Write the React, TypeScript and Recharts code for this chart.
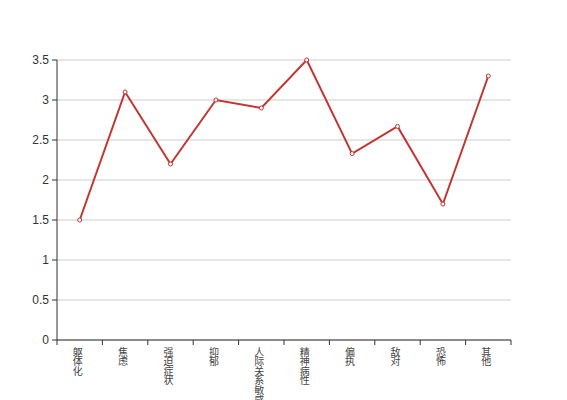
import React from 'react';
import { LineChart, Line, XAxis, YAxis, CartesianGrid } from 'recharts';

const categories = ['躯体化', '焦虑', '强迫症状', '抑郁', '人际关系敏感', '精神病性', '偏执', '敌对', '恐怖', '其他'];
const scores = [1.5, 3.1, 2.2, 3.0, 2.9, 3.5, 2.33, 2.67, 1.7, 3.3];
const yTicks = [0, 0.5, 1, 1.5, 2, 2.5, 3, 3.5];

const chartData = categories.map((name, i) => ({ name, value: scores[i] }));

const W = 567;
const H = 400;
const margin = { top: 60, right: 56, bottom: 0, left: 0 };
const yAxisWidth = 57;
const halfBand = (W - margin.left - margin.right - yAxisWidth) / categories.length / 2;

// category labels are drawn one character per line, with ticks on the band edges
const VerticalTick = (props: any) => {
  const { x, y, payload, index } = props;
  const chars = String(payload.value).split('');
  const isLast = index === categories.length - 1;
  return (
    <g>
      <line x1={x - halfBand} y1={y} x2={x - halfBand} y2={y + 5} stroke="#333" />
      {isLast && <line x1={x + halfBand} y1={y} x2={x + halfBand} y2={y + 5} stroke="#333" />}
      {chars.map((c, i) => (
        <text key={i} x={x - 2} y={y + 15.5 + i * 9.6} textAnchor="middle" fontSize={10} fill="#444">
          {c}
        </text>
      ))}
    </g>
  );
};

export default function App() {
  return (
    <div style={{ position: 'absolute', left: 0, top: 0, fontFamily: '"Liberation Sans", "Noto Sans CJK SC", sans-serif' }}>
      <LineChart width={W} height={H} data={chartData} margin={margin}>
        <CartesianGrid vertical={false} stroke="#ccc" />
        <XAxis
          dataKey="name"
          scale="band"
          interval={0}
          height={60}
          tickLine={false}
          tickSize={0}
          tickMargin={0}
          axisLine={{ stroke: '#333' }}
          tick={<VerticalTick />}
        />
        <YAxis
          domain={[0, 3.5]}
          ticks={yTicks}
          width={yAxisWidth}
          tickSize={5}
          tickMargin={3}
          axisLine={{ stroke: '#333' }}
          tickLine={{ stroke: '#333' }}
          tick={{ fill: '#333', fontSize: 12 }}
        />
        <Line
          dataKey="value"
          stroke="#c23531"
          strokeWidth={2}
          dot={{ r: 2, fill: '#fff', stroke: '#c23531', strokeWidth: 1 }}
          isAnimationActive={false}
        />
      </LineChart>
    </div>
  );
}
